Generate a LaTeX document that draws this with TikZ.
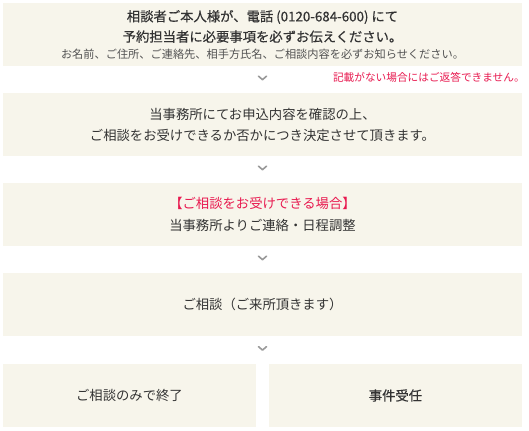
\documentclass[tikz,border=0pt]{standalone}
\usepackage{fontspec}
\usepackage{tikz}
\usetikzlibrary{calc}
\newfontfamily\jpfont{Noto Sans CJK JP}
\newfontfamily\jpmedfont[FakeBold=0.5]{Noto Sans CJK JP}
\definecolor{boxbg}{HTML}{F7F5EB}
\definecolor{textgray}{HTML}{333333}
\definecolor{notered}{HTML}{E8194F}
\definecolor{chevgray}{HTML}{9A9A9A}

\begin{document}
\begin{tikzpicture}[x=0.75pt, y=-0.75pt,
    flowbox/.style={fill=boxbg, inner sep=0pt, minimum height=47.25pt,
        align=center, text=textgray, font=\jpfont\fontsize{10}{15.75}\selectfont},
    widebox/.style={flowbox, minimum width=389.25pt},
    halfbox/.style={flowbox, minimum width=189.75pt},
    chevron/.style={chevgray, line width=1.2pt, line cap=round, line join=round}
]
    % Background and margins
    \useasboundingbox[fill=white] (0,0) rectangle (529,430);

    % Draw the steps
    \node[widebox] (call) at (262.5,34.5) {%
        {\jpmedfont 相談者ご本人様が、電話 (0120-684-600) にて}\\[-0.5pt]
        {\jpmedfont 予約担当者に必要事項を必ずお伝えください。}\\[-3.5pt]
        {\fontsize{8.4}{10}\selectfont\color{textgray!85}お名前、ご住所、ご連絡先、相手方氏名、ご相談内容を必ずお知らせください。}};
    \node[widebox] (check) at (262.5,124.5) {%
        当事務所にてお申込内容を確認の上、\\
        ご相談をお受けできるか否かにつき決定させて頂きます。};
    \node[widebox] (contact) at (262.5,214.5) {%
        {\color{notered}【ご相談をお受けできる場合】}\\[0.5pt]
        当事務所よりご連絡・日程調整};
    \node[widebox] (visit) at (262.5,304.5) {ご相談（ご来所頂きます）};
    \node[halfbox] (only) at (129.5,395.5) {ご相談のみで終了};
    \node[halfbox] (accept) at (395.5,395.5) {{\jpmedfont 事件受任}};

    % Note beside the first arrow
    \node[anchor=east, inner sep=0pt, text=notered,
        font=\jpfont\fontsize{8}{9}\selectfont] (note) at (525,77) {記載がない場合にはご返答できません。};

    % Draw the chevrons between the steps
    \foreach \a/\b in {call/check, check/contact, contact/visit, visit/only} {
        \coordinate (mid) at ($(\a.south)!0.45!(\b.north)$);
        \draw[chevron] ($(mid-|call)+(-4,-2)$) -- ($(mid-|call)+(0,1.5)$) -- ($(mid-|call)+(4,-2)$);
    }
\end{tikzpicture}
\end{document}
